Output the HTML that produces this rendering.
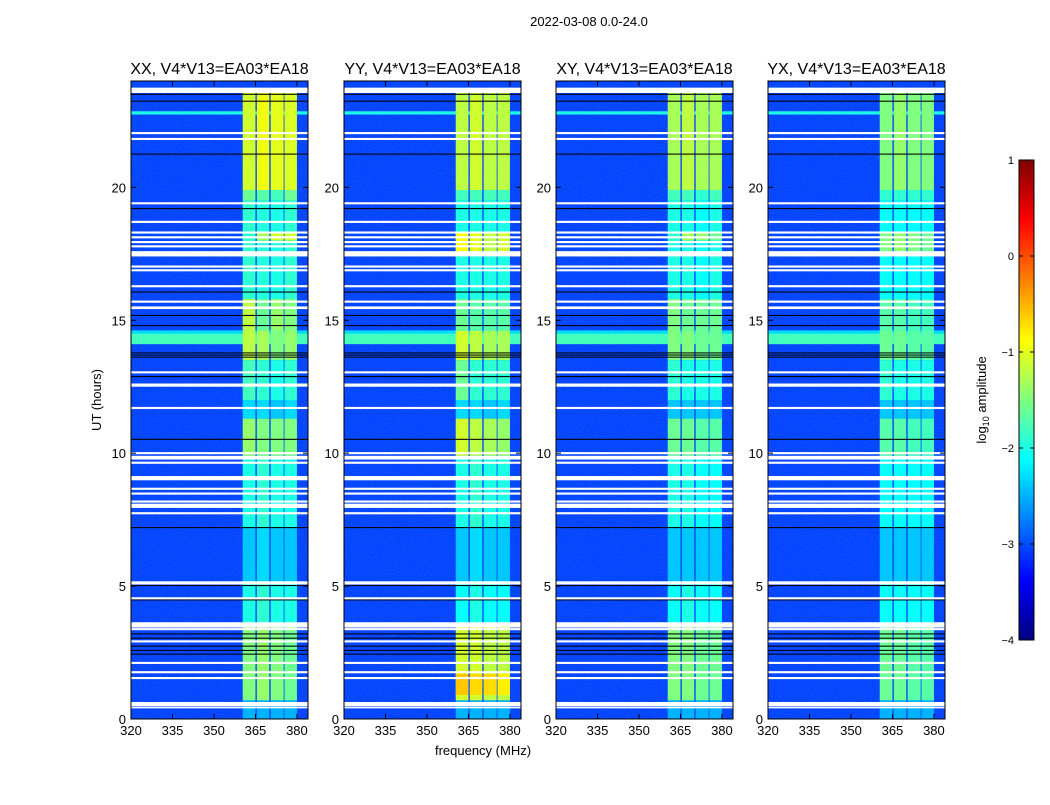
<!DOCTYPE html>
<html><head><meta charset="utf-8"><style>
body{margin:0;background:#fff;font-family:"Liberation Sans",sans-serif}
svg text{font-family:"Liberation Sans",sans-serif}
</style></head><body>
<svg id="chart" width="1050" height="800" xmlns="http://www.w3.org/2000/svg">
<text x="589" y="26" font-size="13" text-anchor="middle">2022-03-08 0.0-24.0</text>
<text transform="translate(101,400) rotate(-90)" font-size="13" text-anchor="middle">UT (hours)</text>
<text x="483" y="755" font-size="13" text-anchor="middle">frequency (MHz)</text>
<defs>
<filter id="noise" x="0" y="0" width="100%" height="100%">
<feTurbulence type="fractalNoise" baseFrequency="0.9" numOctaves="1" seed="3"/>
<feColorMatrix type="matrix" values="0 0 0 0 0.2  0 0 0 0 0.4  0 0 0 0 1  0 0 0 1.2 -0.5"/>
</filter>
</defs>
<g id="panels"></g>
<g id="cbar"></g>
</svg>
<script>
const panelTitles=["XX, V4*V13=EA03*EA18","YY, V4*V13=EA03*EA18","XY, V4*V13=EA03*EA18","YX, V4*V13=EA03*EA18"];
const panelLeft=[131,344,556,768];
const xTicks=[320,335,350,365,380];
const yTicks=[0,5,10,15,20];
const cbTicks=[1,0,-1,-2,-3,-4];
const bands=[[360.4,365],[365.5,370],[370.5,375.2],[375.5,380]];
const background=-3.05;
const whiteRows=[[23.55,23.75],[22.0,22.08],[21.78,21.86],[19.36,19.44],[18.66,18.74],[18.26,18.34],[18.08,18.16],[17.9,17.98],[17.74,17.82],[17.4,17.6],[16.98,17.06],[16.84,16.92],[16.24,16.32],[15.66,15.74],[15.42,15.52],[13.0,13.08],[12.5,12.62],[11.66,11.74],[9.96,10.04],[9.76,9.9],[9.6,9.68],[8.98,9.14],[8.62,8.7],[8.44,8.52],[8.14,8.22],[7.94,8.1],[7.7,7.78],[5.06,5.18],[4.5,4.58],[3.44,3.64],[3.34,3.42],[2.88,2.96],[2.07,2.15],[1.72,1.8],[1.5,1.58],[0.48,0.64],[0.4,0.46]];
const blackRows=[[23.48,23.52],[23.22,23.26],[21.23,21.27],[19.18,19.22],[16.04,16.08],[15.16,15.2],[14.78,14.82],[13.6,13.63],[13.68,13.71],[13.76,13.79],[12.86,12.9],[10.5,10.54],[7.18,7.22],[5.0,5.04],[4.46,4.5],[3.18,3.22],[3.02,3.06],[2.72,2.76],[2.56,2.6],[2.42,2.46]];
const wideRows=[[22.74,22.86,-2.0],[14.1,14.5,-1.8],[14.5,14.62,-2.3]];
const seg0=[[19.9,23.7,-1.1,-0.95,-1.0,-1.05],[19.5,19.9,-1.6,-1.7,-1.8,-1.6],[15.8,19.5,-1.9,-1.95,-2.0,-1.9],[18.0,18.3,-1.9,-1.3,-1.1,-1.1],[14.6,15.8,-1.2,-1.6,-1.4,-1.5],[13.5,14.6,-1.2,-1.3,-1.5,-1.4],[12.0,13.5,-1.8,-1.9,-2.0,-1.9],[11.3,12.0,-2.3,-2.3,-2.4,-2.3],[9.9,11.3,-1.4,-1.5,-1.5,-1.5],[7.2,9.9,-2.0,-1.9,-2.0,-2.0],[5.2,7.2,-2.4,-2.3,-2.4,-2.4],[3.5,5.2,-2.0,-1.9,-2.0,-2.0],[0.7,3.5,-1.5,-1.4,-1.5,-1.6],[0,0.7,-2.5,-2.5,-2.5,-2.5]];
const seg1=[[19.9,23.7,-1.2,-1.1,-1.2,-1.2],[19.5,19.9,-1.8,-1.8,-1.8,-1.8],[15.8,19.5,-2.0,-2.0,-2.0,-2.0],[17.6,18.3,-0.9,-1.0,-1.2,-1.1],[14.6,15.8,-1.6,-1.7,-1.7,-1.7],[13.5,14.6,-1.1,-1.2,-1.3,-1.3],[12.0,13.5,-1.6,-1.9,-1.9,-1.9],[11.3,12.0,-2.3,-2.3,-2.4,-2.3],[9.9,11.3,-1.1,-1.2,-1.3,-1.4],[7.2,9.9,-2.0,-1.9,-2.0,-2.0],[5.2,7.2,-2.4,-2.3,-2.4,-2.4],[3.5,5.2,-2.1,-2.0,-2.1,-2.1],[0.7,3.5,-1.1,-1.1,-1.2,-1.2],[0.9,1.7,-0.6,-0.7,-0.7,-0.8],[0,0.7,-2.5,-2.5,-2.5,-2.5]];
const seg2=[[19.9,23.7,-1.3,-1.2,-1.3,-1.3],[19.5,19.9,-1.8,-1.8,-1.9,-1.8],[15.8,19.5,-2.0,-2.0,-2.1,-2.0],[18.0,18.3,-1.9,-1.3,-1.4,-1.6],[14.6,15.8,-1.5,-1.6,-1.6,-1.6],[13.5,14.6,-1.5,-1.5,-1.6,-1.6],[12.0,13.5,-1.9,-2.0,-2.0,-2.0],[11.3,12.0,-2.4,-2.4,-2.4,-2.4],[9.9,11.3,-1.6,-1.6,-1.7,-1.7],[7.2,9.9,-2.0,-2.0,-2.1,-2.1],[5.2,7.2,-2.4,-2.4,-2.4,-2.4],[3.5,5.2,-2.1,-2.0,-2.1,-2.1],[0.7,3.5,-1.5,-1.5,-1.6,-1.6],[0,0.7,-2.5,-2.5,-2.5,-2.5]];
const seg3=[[19.9,23.7,-1.5,-1.4,-1.5,-1.5],[19.5,19.9,-1.9,-1.9,-1.9,-1.9],[15.8,19.5,-2.1,-2.1,-2.1,-2.1],[17.6,18.3,-1.5,-1.4,-1.5,-1.6],[14.6,15.8,-1.7,-1.7,-1.8,-1.8],[13.5,14.6,-1.6,-1.6,-1.7,-1.7],[12.0,13.5,-1.9,-2.0,-2.0,-2.0],[11.3,12.0,-2.4,-2.4,-2.4,-2.4],[9.9,11.3,-1.7,-1.7,-1.8,-1.8],[7.2,9.9,-2.1,-2.1,-2.1,-2.1],[5.2,7.2,-2.4,-2.4,-2.4,-2.4],[3.5,5.2,-2.1,-2.1,-2.1,-2.1],[0.7,3.5,-1.6,-1.6,-1.7,-1.7],[0,0.7,-2.5,-2.5,-2.5,-2.5]];
const segments=[seg0,seg1,seg2,seg3];

const NS="http://www.w3.org/2000/svg";
const W=177,TOP=81,BOT=719,FMIN=320,FMAX=384,HMAX=24;
function jet(v){let t=Math.max(0,Math.min(1,(v+4)/5));const c=x=>Math.round(255*Math.max(0,Math.min(1,1.5-Math.abs(4*t-x))));return `rgb(${c(3)},${c(2)},${c(1)})`;}
function yS(h){return BOT-(h/HMAX)*(BOT-TOP);}
function mk(tag,attrs,parent){const e=document.createElementNS(NS,tag);for(const k in attrs)e.setAttribute(k,attrs[k]);parent.appendChild(e);return e;}
const root=document.getElementById('panels');
panelLeft.forEach((L,p)=>{
  const xS=f=>L+(f-FMIN)/(FMAX-FMIN)*W;
  const g=mk('g',{},root);
  
  
  const bg=mk('rect',{x:L,y:TOP,width:W,height:BOT-TOP,fill:jet(background)},g);
  
  
  const nz=mk('rect',{x:L,y:TOP,width:W,height:BOT-TOP,filter:'url(#noise)',opacity:0.5},g);
  
  
  wideRows.forEach(r=>{const e=mk('rect',{x:L,y:yS(r[1]),width:W,height:yS(r[0])-yS(r[1]),fill:jet(r[2])},g);
    
    });
  segments[p].forEach(s=>{bands.forEach((b,i)=>{const e=mk('rect',{x:xS(b[0]),y:yS(s[1]),width:xS(b[1])-xS(b[0]),height:yS(s[0])-yS(s[1]),fill:jet(s[2+i])},g);
    
    });});
  blackRows.forEach(r=>{const e=mk('rect',{x:L,y:yS(r[1]),width:W,height:Math.max(1,yS(r[0])-yS(r[1])),fill:'#000'},g);
    
    });
  whiteRows.forEach(r=>{const e=mk('rect',{x:L,y:yS(r[1]),width:W,height:Math.max(1.5,yS(r[0])-yS(r[1])),fill:'#fff'},g);
    
    });
  const fr=mk('rect',{x:L,y:TOP,width:W,height:BOT-TOP,fill:'none',stroke:'#000','stroke-width':1},g);
  
  
  const t=mk('text',{x:L+W/2,y:74,'font-size':16,'text-anchor':'middle'},g);t.textContent=panelTitles[p];
  
  
  xTicks.forEach(v=>{const x=xS(v);
    mk('line',{x1:x,x2:x,y1:BOT,y2:BOT-5,stroke:'#000'},g);mk('line',{x1:x,x2:x,y1:TOP,y2:TOP+5,stroke:'#000'},g);
    const l=mk('text',{x:x,y:BOT+16,'font-size':13,'text-anchor':'middle'},g);l.textContent=v;
    
    });
  yTicks.forEach(v=>{const y=yS(v);
    mk('line',{x1:L,x2:L+5,y1:y,y2:y,stroke:'#000'},g);mk('line',{x1:L+W,x2:L+W-5,y1:y,y2:y,stroke:'#000'},g);
    const l=mk('text',{x:L-5,y:y+5,'font-size':13,'text-anchor':'end'},g);l.textContent=v;
    
    });
});
const cb=document.getElementById('cbar');
const CX=1019,CW=15,CT=160,CB=640;
const cbY=v=>CB-(v+4)/5*(CB-CT);
const defs=mk('defs',{},cb);
const grad=mk('linearGradient',{id:'jetg',x1:0,y1:1,x2:0,y2:0},defs);
[0,0.125,0.375,0.625,0.875,1].forEach(o=>mk('stop',{offset:o,'stop-color':jet(-4+5*o)},grad));
const cr=mk('rect',{x:CX,y:CT,width:CW,height:CB-CT,fill:'url(#jetg)',stroke:'#000'},cb);


cbTicks.forEach(v=>{const y=cbY(v);
  mk('line',{x1:CX,x2:CX+4,y1:y,y2:y,stroke:'#000'},cb);mk('line',{x1:CX+CW,x2:CX+CW-4,y1:y,y2:y,stroke:'#000'},cb);
  const l=mk('text',{x:CX-5,y:y+4,'font-size':11,'text-anchor':'end'},cb);l.textContent=v<0?'\u2212'+(-v):v;
  
  });
const ct=mk('text',{transform:'translate(986,400) rotate(-90)','font-size':13,'text-anchor':'middle'},cb);
ct.innerHTML='log<tspan font-size="9" dy="3">10</tspan><tspan dy="-3"> amplitude</tspan>';


</script>
</body></html>
